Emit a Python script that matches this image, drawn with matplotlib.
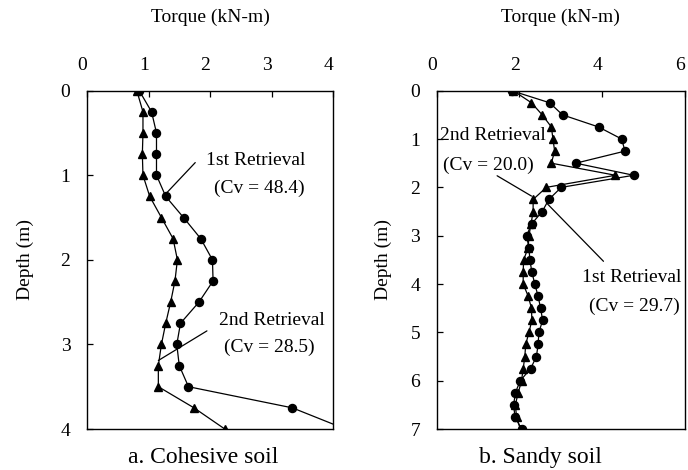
import matplotlib
matplotlib.use("Agg")
import matplotlib.pyplot as plt
import matplotlib.transforms as mtransforms
import numpy as np

plt.rcParams['font.family'] = ['Liberation Serif', 'DejaVu Serif']

# ---- data: a. Cohesive soil ----
depth_a = [0, 0.25, 0.5, 0.75, 1.0, 1.25, 1.5, 1.75, 2.0, 2.25, 2.5, 2.75, 3.0, 3.25, 3.5, 3.75, 4.0]
first_a = [0.85, 1.05, 1.13, 1.13, 1.13, 1.28, 1.57, 1.85, 2.04, 2.05, 1.82, 1.52, 1.46, 1.50, 1.65, 3.34, 4.2]
second_a = [0.81, 0.91, 0.91, 0.90, 0.91, 1.02, 1.21, 1.40, 1.47, 1.43, 1.36, 1.28, 1.21, 1.16, 1.16, 1.74, 2.24]

# ---- data: b. Sandy soil ----
depth_b = [0, 0.25, 0.5, 0.75, 1.0, 1.25, 1.5, 1.75, 2.0, 2.25, 2.5, 2.75, 3.0, 3.25, 3.5,
           3.75, 4.0, 4.25, 4.5, 4.75, 5.0, 5.25, 5.5, 5.75, 6.0, 6.25, 6.5, 6.75, 7.0]
first_b = [1.81, 2.73, 3.04, 3.91, 4.47, 4.55, 3.36, 4.76, 3.01, 2.71, 2.55, 2.30, 2.17, 2.23, 2.25,
           2.30, 2.37, 2.45, 2.51, 2.56, 2.47, 2.45, 2.41, 2.27, 2.02, 1.90, 1.86, 1.89, 2.05]
second_b = [1.85, 2.29, 2.55, 2.77, 2.81, 2.85, 2.77, 4.32, 2.65, 2.33, 2.33, 2.28, 2.23, 2.21, 2.10,
            2.09, 2.09, 2.21, 2.29, 2.30, 2.23, 2.15, 2.13, 2.09, 2.05, 1.97, 1.90, 1.93, 2.02]

xticks_a = [0, 1, 2, 3, 4]
yticks_a = [0, 1, 2, 3, 4]
xticks_b = [0, 2, 4, 6]
yticks_b = [0, 1, 2, 3, 4, 5, 6, 7]

W, H = 688, 470
fig = plt.figure(figsize=(W / 100, H / 100), dpi=100)

def make_ax(l, r, t, b):
    return fig.add_axes([l / W, 1 - b / H, (r - l) / W, (b - t) / H])

ax1 = make_ax(87, 333, 90.7, 429)
ax2 = make_ax(436.7, 685, 90.7, 429)

FS = 14
LW = 0.9
MS = 5.8

def style(ax, xlim, ylim, xt, yt, ylab_x):
    ax.set_xlim(*xlim)
    ax.set_ylim(ylim[1], ylim[0])
    ax.set_xticks(xt)
    ax.set_yticks(yt)
    ax.xaxis.tick_top()
    ax.tick_params(axis='x', which='both', top=True, bottom=False, direction='in',
                   length=4, width=0.9, pad=12, labelsize=FS)
    ax.tick_params(axis='y', which='both', left=True, right=False, direction='in',
                   length=4, width=0.9, pad=12, labelsize=FS)
    shift = mtransforms.ScaledTranslation(-0.045, 0, fig.dpi_scale_trans)
    for lab in ax.get_xticklabels():
        lab.set_transform(lab.get_transform() + shift)
    for s in ax.spines.values():
        s.set_linewidth(1.0)
        s.set_color('black')
    ax.xaxis.set_label_position('top')
    ax.set_xlabel('Torque (kN-m)', fontsize=FS)
    ax.xaxis.set_label_coords(0.5, 1.218)
    ax.xaxis.label.set_va('center')
    ax.set_ylabel('Depth (m)', fontsize=FS)
    ax.yaxis.set_label_coords(ylab_x, 0.5)
    ax.yaxis.label.set_va('center')

# panel a
ax1.plot(first_a, depth_a, color='black', lw=LW, marker='o', ms=MS, mfc='black', mec='black')
ax1.plot(second_a, depth_a, color='black', lw=LW, marker='^', ms=MS + 0.5, mfc='black', mec='black')
style(ax1, (0, 4), (0, 4), xticks_a, yticks_a, -0.252)
ax1.annotate('', xy=(1.28, 1.22), xytext=(1.76, 0.85),
             arrowprops=dict(arrowstyle='-', color='black', lw=0.9, shrinkA=0, shrinkB=0))
ax1.text(2.75, 0.83, '1st Retrieval', ha='center', va='center', fontsize=FS)
ax1.text(2.80, 1.16, '(Cv = 48.4)', ha='center', va='center', fontsize=FS)
ax1.annotate('', xy=(1.16, 3.19), xytext=(1.95, 2.84),
             arrowprops=dict(arrowstyle='-', color='black', lw=0.9, shrinkA=0, shrinkB=0))
ax1.text(3.0, 2.72, '2nd Retrieval', ha='center', va='center', fontsize=FS)
ax1.text(2.97, 3.03, '(Cv = 28.5)', ha='center', va='center', fontsize=FS)

# panel b
ax2.plot(first_b, depth_b, color='black', lw=LW, marker='o', ms=MS, mfc='black', mec='black')
ax2.plot(second_b, depth_b, color='black', lw=LW, marker='^', ms=MS + 0.5, mfc='black', mec='black')
style(ax2, (0, 6), (0, 7), xticks_b, yticks_b, -0.216)
ax2.annotate('', xy=(2.29, 2.18), xytext=(1.46, 1.76),
             arrowprops=dict(arrowstyle='-', color='black', lw=0.9, shrinkA=0, shrinkB=0))
ax2.text(1.36, 0.93, '2nd Retrieval', ha='center', va='center', fontsize=FS)
ax2.text(1.26, 1.55, '(Cv = 20.0)', ha='center', va='center', fontsize=FS)
ax2.annotate('', xy=(2.65, 2.32), xytext=(4.03, 3.53),
             arrowprops=dict(arrowstyle='-', color='black', lw=0.9, shrinkA=0, shrinkB=0))
ax2.text(4.71, 3.87, '1st Retrieval', ha='center', va='center', fontsize=FS)
ax2.text(4.78, 4.47, '(Cv = 29.7)', ha='center', va='center', fontsize=FS)

fig.text(203 / W, 1 - 457.7 / H, 'a. Cohesive soil', ha='center', va='center', fontsize=17)
fig.text(540 / W, 1 - 457.7 / H, 'b. Sandy soil', ha='center', va='center', fontsize=17)

fig.savefig('out.png', dpi=100)
